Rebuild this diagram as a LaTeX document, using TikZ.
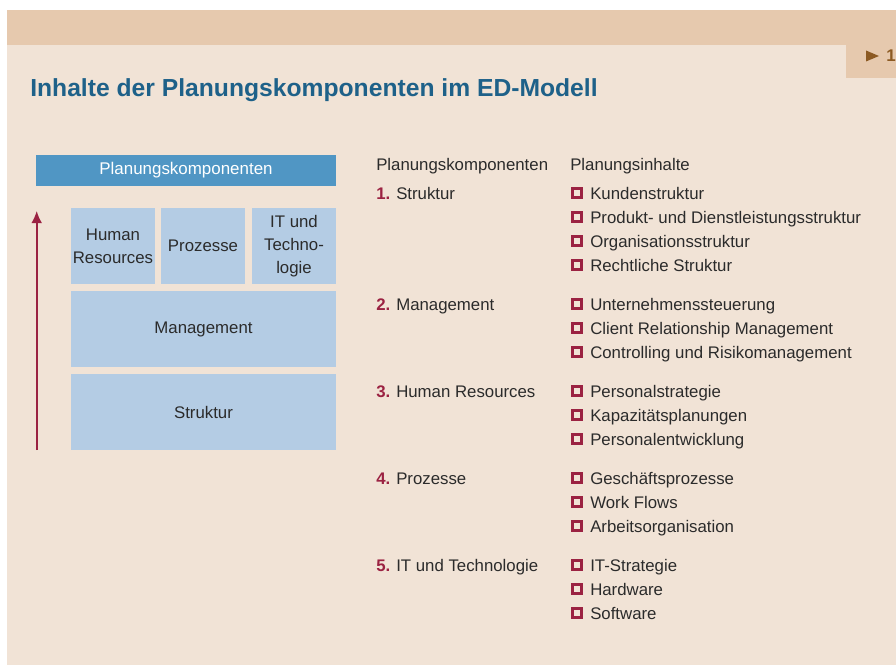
\documentclass[tikz,border=0pt]{standalone}
\usepackage{fontspec}
\setmainfont{Liberation Sans}
\usetikzlibrary{arrows.meta}

\definecolor{pagebg}{RGB}{241,227,214}
\definecolor{bandbg}{RGB}{230,201,174}
\definecolor{titleblue}{RGB}{30,97,137}
\definecolor{headblue}{RGB}{80,150,196}
\definecolor{boxblue}{RGB}{180,204,228}
\definecolor{darkred}{RGB}{155,34,66}
\definecolor{tabbrown}{RGB}{140,90,35}
\definecolor{txt}{RGB}{43,43,43}

\tikzset{
  txtfont/.style={font=\fontsize{12.6}{17}\selectfont, text=txt},
  compbox/.style={txtfont, fill=boxblue, inner sep=0pt, align=center},
  headbox/.style={fill=headblue, inner sep=0pt, text=white, font=\fontsize{12.7}{17}\selectfont},
  item/.style={txtfont, anchor=base west, inner sep=0pt},
  nr/.style={anchor=base west, inner sep=0pt, text=darkred, font=\fontsize{12.6}{17}\selectfont\bfseries},
  bull/.style={draw=darkred, fill=pagebg, line width=2.2pt, minimum size=6.4pt, inner sep=0pt},
}

\begin{document}
\begin{tikzpicture}[x=0.75pt,y=0.75pt,yscale=-1,xscale=1]
\useasboundingbox (0,0) rectangle (896,667);

%Page and header band
\fill [pagebg] (7,10) rectangle (896,665);
\fill [bandbg] (7,10) rectangle (896,45);
\fill [bandbg] (846,45) rectangle (896,78);
%Tab marker
\fill [tabbrown] (866,50.5) -- (879,56) -- (866,61.5) -- cycle;
\node [anchor=base west, inner sep=0pt, text=tabbrown, font=\fontsize{12.7}{17}\selectfont\bfseries] (tabnr) at (886,62) {1};

% Title
\node [anchor=base west, inner sep=0pt, text=titleblue, font=\fontsize{18.5}{22}\selectfont\bfseries] (title) at (30,97) {Inhalte der Planungskomponenten im ED-Modell};

%Left block of components
\node [headbox, minimum width=225pt, minimum height=23pt] (head) at (186,170.5) {Planungskomponenten};
\node [compbox, minimum width=63pt, minimum height=57pt] (hr) at (113,246) {Human\\Resources};
\node [compbox, minimum width=63pt, minimum height=57pt] (proz) at (203,246) {Prozesse};
\node [compbox, minimum width=63pt, minimum height=57pt] (it) at (294,246) {IT und\\Techno-\\logie};
\node [compbox, minimum width=198.75pt, minimum height=57pt] (mgmt) at (203.5,329) {Management};
\node [compbox, minimum width=198.75pt, minimum height=57pt] (strukt) at (203.5,412) {Struktur};

%Straight Lines
\coordinate (abot) at (36.7,450);
\coordinate (atop) at (36.7,211);
\draw [darkred, line width=1.2pt, -{Latex[length=9pt,width=8pt]}] (abot) -- (atop);

% Column heads
\node [item] (colk) at (376,170) {Planungskomponenten};
\node [item] (coli) at (570,170) {Planungsinhalte};

% Group 1
\node [nr] (n1) at (376,199) {1.};
\node [item] (k1) at (396,199) {Struktur};
\node [bull] (b11) at (577,193) {};
\node [item] (i11) at (590,199) {Kundenstruktur};
\node [bull] (b12) at (577,217) {};
\node [item] (i12) at (590,223) {Produkt- und Dienstleistungsstruktur};
\node [bull] (b13) at (577,241) {};
\node [item] (i13) at (590,247) {Organisationsstruktur};
\node [bull] (b14) at (577,265) {};
\node [item] (i14) at (590,271) {Rechtliche Struktur};

% Group 2
\node [nr] (n2) at (376,310) {2.};
\node [item] (k2) at (396,310) {Management};
\node [bull] (b21) at (577,304) {};
\node [item] (i21) at (590,310) {Unternehmenssteuerung};
\node [bull] (b22) at (577,328) {};
\node [item] (i22) at (590,334) {Client Relationship Management};
\node [bull] (b23) at (577,352) {};
\node [item] (i23) at (590,358) {Controlling und Risikomanagement};

% Group 3
\node [nr] (n3) at (376,397) {3.};
\node [item] (k3) at (396,397) {Human Resources};
\node [bull] (b31) at (577,391) {};
\node [item] (i31) at (590,397) {Personalstrategie};
\node [bull] (b32) at (577,415) {};
\node [item] (i32) at (590,421) {Kapazitätsplanungen};
\node [bull] (b33) at (577,439) {};
\node [item] (i33) at (590,445) {Personalentwicklung};

% Group 4
\node [nr] (n4) at (376,484) {4.};
\node [item] (k4) at (396,484) {Prozesse};
\node [bull] (b41) at (577,478) {};
\node [item] (i41) at (590,484) {Geschäftsprozesse};
\node [bull] (b42) at (577,502) {};
\node [item] (i42) at (590,508) {Work Flows};
\node [bull] (b43) at (577,526) {};
\node [item] (i43) at (590,532) {Arbeitsorganisation};

% Group 5
\node [nr] (n5) at (376,571) {5.};
\node [item] (k5) at (396,571) {IT und Technologie};
\node [bull] (b51) at (577,565) {};
\node [item] (i51) at (590,571) {IT-Strategie};
\node [bull] (b52) at (577,589) {};
\node [item] (i52) at (590,595) {Hardware};
\node [bull] (b53) at (577,613) {};
\node [item] (i53) at (590,619) {Software};
\end{tikzpicture}
\end{document}
